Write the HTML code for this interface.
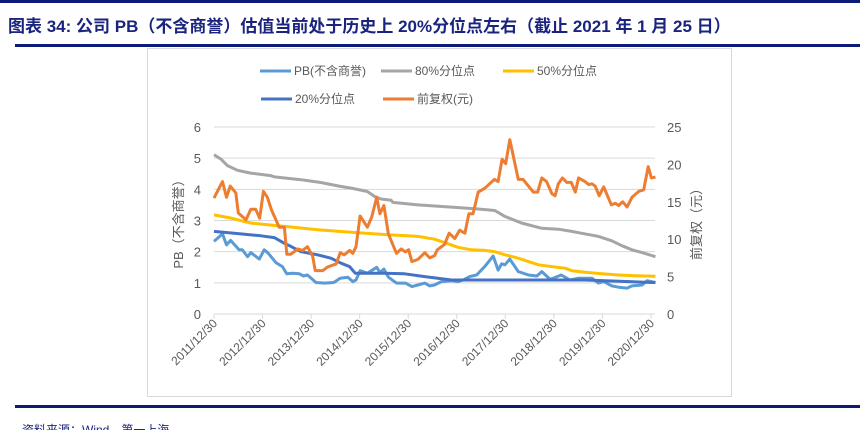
<!DOCTYPE html>
<html><head><meta charset="utf-8"><style>
body{margin:0;width:860px;height:430px;overflow:hidden;background:#fff;font-family:"Liberation Sans","Noto Sans CJK SC",sans-serif}
svg{display:block}
</style></head><body>
<svg id="c" width="860" height="430">
<rect x="0" y="0" width="860" height="3" fill="#0c1a78"/>
<text x="8" y="32" font-size="17" font-weight="bold" fill="#1a237e" font-family="Liberation Sans, Noto Sans CJK SC, sans-serif">图表 34: 公司 PB（不含商誉）估值当前处于历史上 20%分位点左右（截止 2021 年 1 月 25 日）</text>
<rect x="15" y="44" width="845" height="3" fill="#0c1a78"/>
<rect x="147.5" y="48.5" width="584" height="348" fill="none" stroke="#d9d9d9"/>
<g id="legend" font-size="12" fill="#595959">
<g><line x1="260" y1="71" x2="291" y2="71" stroke="#5b9bd5" stroke-width="3"/><text x="294" y="75">PB(不含商誉)</text></g>
<g><line x1="381" y1="71" x2="412" y2="71" stroke="#a5a5a5" stroke-width="3"/><text x="415" y="75">80%分位点</text></g>
<g><line x1="503" y1="71" x2="534" y2="71" stroke="#ffc000" stroke-width="3"/><text x="537" y="75">50%分位点</text></g>
<g><line x1="261" y1="99" x2="292" y2="99" stroke="#4472c4" stroke-width="3"/><text x="295" y="103">20%分位点</text></g>
<g><line x1="383" y1="99" x2="414" y2="99" stroke="#ed7d31" stroke-width="3"/><text x="417" y="103">前复权(元)</text></g>
</g>
<g id="grid"></g><g id="axes"></g><g id="series"></g>
<text transform="translate(183,221) rotate(-90)" text-anchor="middle" font-size="13" fill="#595959">PB（不含商誉）</text>
<text transform="translate(701,221) rotate(-90)" text-anchor="middle" font-size="13" fill="#595959">前复权（元）</text>
<rect x="15" y="405" width="845" height="3" fill="#0c1a78"/>
<text x="22" y="434" font-size="12" fill="#1a237e">资料来源：Wind，第一上海</text>
</svg>
<script>
const xTickLabels=["2011/12/30","2012/12/30","2013/12/30","2014/12/30","2015/12/30","2016/12/30","2017/12/30","2018/12/30","2019/12/30","2020/12/30"];
const leftTicks=[0,1,2,3,4,5,6];
const rightTicks=[0,5,10,15,20,25];
const pbMonths=[0,2.1,3.1,4.1,6.2,7.0,8.3,9.1,11.2,12.4,13.4,15.3,16.9,18.0,19.4,21.1,22.1,23.1,25.2,27.3,29.6,31.2,33.1,34.3,35.1,36.1,37.9,40.2,41.0,42.0,43.1,45.1,47.3,48.9,50.4,52.1,53.3,54.5,56.2,58.7,60.3,61.6,63.2,64.9,66.9,69.0,70.2,71.1,71.9,73.1,75.2,77.7,79.8,81.0,83.1,85.8,88.0,90.1,93.4,95.0,96.3,98.3,100.0,102.1,103.3,105.8,107.0,109.1];
const pbValues=[2.33,2.57,2.22,2.36,2.06,2.06,1.84,1.97,1.76,2.06,1.95,1.65,1.52,1.29,1.31,1.29,1.22,1.25,1.01,0.99,1.01,1.15,1.18,1.04,1.09,1.39,1.31,1.5,1.33,1.44,1.18,0.99,0.99,0.88,0.93,0.99,0.9,0.93,1.04,1.07,1.04,1.09,1.2,1.25,1.52,1.86,1.41,1.61,1.58,1.76,1.36,1.25,1.22,1.36,1.11,1.25,1.09,1.15,1.15,0.99,1.04,0.9,0.86,0.83,0.9,0.93,1.07,1.01];
const p80Months=[0,1.7,3.3,5.8,9.1,14.0,14.9,21.5,26.4,31.4,33.9,37.9,39.7,41.3,43.8,44.2,50.4,58.7,65.3,69.4,71.9,76.0,81.0,85.1,88.4,90.9,95.0,98.3,100.8,103.3,105.8,109.1];
const p80Values=[5.11,4.97,4.76,4.61,4.52,4.44,4.4,4.31,4.22,4.09,4.04,3.93,3.77,3.69,3.65,3.58,3.5,3.43,3.37,3.32,3.13,2.92,2.75,2.72,2.65,2.59,2.49,2.35,2.19,2.06,1.97,1.84];
const p50Months=[0,4.1,7.4,9.1,15.7,19.0,25.6,33.9,42.1,50.4,54.5,57.0,60.3,63.6,66.9,69.4,71.9,75.2,77.7,80.2,83.5,86.8,88.4,91.7,95.9,100.0,104.1,109.1];
const p50Values=[3.18,3.08,2.97,2.92,2.83,2.79,2.7,2.62,2.55,2.49,2.4,2.29,2.14,2.06,2.04,2.0,1.9,1.79,1.68,1.58,1.52,1.47,1.39,1.34,1.29,1.25,1.23,1.21];
const p20Months=[0,5.0,11.6,14.9,17.4,19.0,21.5,25.6,28.9,31.4,33.5,34.9,38.0,42.1,47.1,52.1,58.7,66.9,91.7,108.3,109.1];
const p20Values=[2.65,2.59,2.51,2.45,2.27,2.17,2.0,1.9,1.79,1.63,1.52,1.31,1.31,1.31,1.29,1.2,1.09,1.09,1.09,1.01,1.01];
const priceMonths=[0,2.1,3.1,4.0,5.4,6.0,7.9,9.1,10.3,11.3,12.2,13.2,14.2,15.3,16.1,17.4,18.0,19.0,20.7,21.9,23.1,24.4,25.0,26.9,28.1,30.2,31.2,32.2,33.5,34.3,35.1,36.1,37.9,39.0,40.2,41.0,42.0,43.1,45.1,46.3,47.3,48.1,48.9,50.4,52.1,53.3,54.5,55.2,57.0,58.1,59.5,60.7,62.0,63.0,64.0,65.3,66.9,69.3,70.2,71.2,72.1,73.1,75.2,76.4,78.9,80.0,81.0,82.2,83.5,84.3,85.1,86.1,87.2,88.3,89.3,90.1,91.7,92.6,93.4,94.2,95.2,96.3,98.2,99.2,100.0,101.0,102.1,103.3,105.0,106.2,107.3,108.1,109.1];
const priceValues=[15.5,17.7,15.6,17.1,16.2,13.5,12.6,14.0,14.0,12.8,16.4,15.6,13.9,12.6,11.6,11.6,8.0,8.0,8.7,8.5,9.0,7.7,5.8,5.8,6.3,6.7,8.2,7.9,8.5,8.1,9.0,13.1,11.6,13.0,15.6,13.4,14.5,10.7,8.1,8.7,8.3,8.6,7.0,7.3,8.2,7.5,7.8,8.6,9.3,10.8,10.1,11.2,10.8,13.4,13.4,16.3,16.8,18.0,17.7,20.7,20.1,23.3,18.0,18.0,16.3,16.3,18.2,17.7,16.1,15.8,17.4,18.2,17.6,17.6,16.3,18.2,17.7,17.3,17.4,17.1,15.8,17.0,14.6,14.8,14.5,15.0,14.3,15.6,16.4,16.6,19.7,18.2,18.3];

const NS="http://www.w3.org/2000/svg";
const X0=214,X1=651,Y0=314,Y1=127;
const xs=m=>X0+(X1-X0)*m/108;
const yl=v=>Y0-(Y0-Y1)*v/6;
const yr=v=>Y0-(Y0-Y1)*v/25;
function mk(tag,attrs,parent){const e=document.createElementNS(NS,tag);for(const k in attrs)e.setAttribute(k,attrs[k]);parent.appendChild(e);return e;}
const grid=document.getElementById('grid'),axes=document.getElementById('axes'),ser=document.getElementById('series');
leftTicks.forEach(v=>{
  if(v>0){const g=mk('line',{x1:X0,x2:X1+4,y1:yl(v),y2:yl(v),stroke:'#d9d9d9','stroke-width':1},grid);
  
  }
  const t=mk('text',{x:201,y:yl(v)+5,'text-anchor':'end','font-size':13,fill:'#595959'},axes);t.textContent=v;
  
  
});
rightTicks.forEach(v=>{
  const t=mk('text',{x:667,y:yr(v)+5,'font-size':13,fill:'#595959'},axes);t.textContent=v;
  
  
});
const ax=mk('line',{x1:X0,x2:X1+4,y1:Y0,y2:Y0,stroke:'#d9d9d9'},axes);


xTickLabels.forEach((l,i)=>{
  const x=xs(i*12);
  const tk=mk('line',{x1:x,x2:x,y1:Y0,y2:Y0+5,stroke:'#d9d9d9'},axes);
  
  
  const t=mk('text',{transform:`translate(${x+4},${Y0+10}) rotate(-45)`,'text-anchor':'end','font-size':12,fill:'#595959'},axes);t.textContent=l;
  
  
});
function line(ms,vs,yf,color,name){
  const d=ms.map((m,i)=>(i?'L':'M')+xs(m).toFixed(1)+','+yf(vs[i]).toFixed(1)).join('');
  const p=mk('path',{d:d,fill:'none',stroke:color,'stroke-width':3,'stroke-linejoin':'round'},ser);
  
  
}
line(p80Months,p80Values,yl,'#a5a5a5','series-80pct');
line(p50Months,p50Values,yl,'#ffc000','series-50pct');
line(pbMonths,pbValues,yl,'#5b9bd5','series-pb');
line(p20Months,p20Values,yl,'#4472c4','series-20pct');
line(priceMonths,priceValues,yr,'#ed7d31','series-price');
</script>
</body></html>
